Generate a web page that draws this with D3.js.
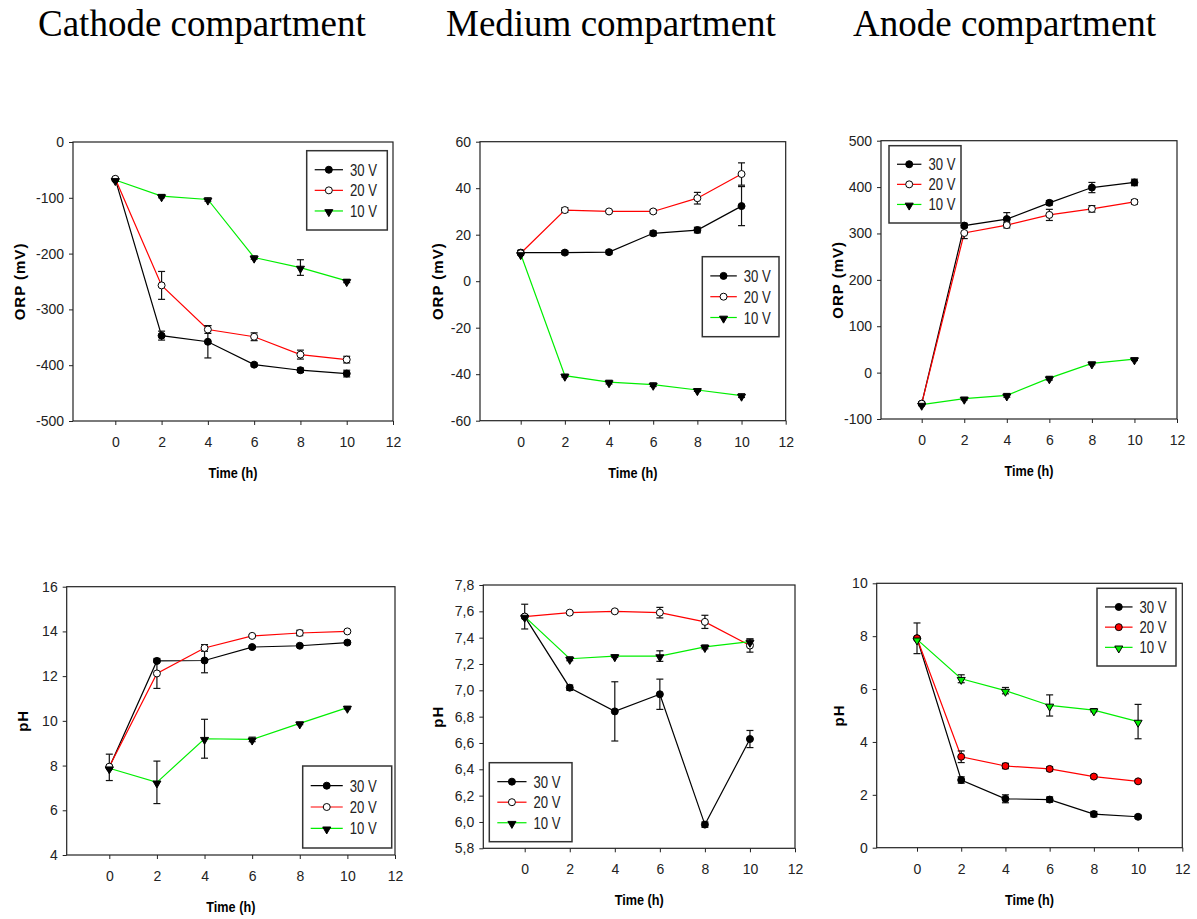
<!DOCTYPE html>
<html>
<head>
<meta charset="utf-8">
<script src="https://cdn.jsdelivr.net/npm/d3@7"></script>
<style>
  body { margin: 0; background: #fff; }
  .tick text { font-family: "Liberation Sans", Arial, sans-serif; font-size: 14px; fill: #222; }
  .legend text { font-family: "Liberation Sans Narrow", "Arial Narrow", "Liberation Sans", sans-serif; font-size: 17px; fill: #222; }
  .xtitle { font-family: "Liberation Sans Narrow", "Arial Narrow", "Liberation Sans", sans-serif; font-weight: bold; font-size: 15px; }
  .ytitle { font-family: "Liberation Sans", Arial, sans-serif; font-weight: bold; font-size: 15px; letter-spacing: 1px; }
  .ptitle { font-family: "Liberation Serif", "Times New Roman", serif; font-size: 37px; }
</style>
</head>
<body>
<div id="chart"></div>
<script>
// data
var hours = [0, 2, 4, 6, 8, 10],
    seriesNames = ["30 V", "20 V", "10 V"],
    titles = ["Cathode compartment", "Medium compartment", "Anode compartment"];

// ORP (mV)
var cathodeOrp    = [[-67, -347, -358, -399, -409, -415], [-66, -257, -336, -349, -381, -390], [-68, -97, -103, -207, -225, -249]],
    cathodeOrpErr = [[3, 8, 29, 3, 4, 6], [0, 25, 7, 7, 8, 6], [0, 3, 3, 3, 14, 3]],
    mediumOrp     = [[12.3, 12.3, 12.5, 20.6, 22, 32.3], [12, 30.6, 30, 30, 35.7, 46.1], [11.7, -40.6, -43.4, -44.5, -46.8, -49.2]],
    mediumOrpErr  = [[1, 0.8, 0.8, 1, 1.2, 8.4], [0, 1, 0.5, 0.8, 2.5, 4.8], [0, 0.6, 0.8, 0.8, 0.6, 0.8]],
    anodeOrp      = [[-67, 317, 331, 366, 399, 410], [-67, 301, 318, 340, 353, 368], [-69, -56, -49, -12, 20, 29]],
    anodeOrpErr   = [[4, 5, 14, 5, 11, 7], [0, 12, 6, 12, 7, 5], [0, 3, 4, 4, 3, 3]];

// pH
var cathodePh     = [[7.92, 12.68, 12.7, 13.3, 13.36, 13.5], [7.95, 12.12, 13.26, 13.8, 13.93, 14.0], [7.88, 7.25, 9.2, 9.17, 9.89, 10.59]],
    cathodePhErr  = [[0.59, 0.05, 0.55, 0.06, 0.05, 0.06], [0, 0.67, 0.15, 0.05, 0.12, 0.05], [0, 0.95, 0.87, 0.1, 0.06, 0.06]],
    mediumPh      = [[7.56, 7.02, 6.84, 6.97, 5.98, 6.63], [7.56, 7.59, 7.6, 7.59, 7.52, 7.34], [7.56, 7.24, 7.26, 7.26, 7.33, 7.37]],
    mediumPhErr   = [[0.094, 0.02, 0.225, 0.115, 0.02, 0.065], [0, 0.01, 0.01, 0.04, 0.05, 0.05], [0, 0.015, 0.01, 0.04, 0.015, 0.02]],
    anodePh       = [[7.92, 2.56, 1.85, 1.82, 1.27, 1.17], [7.92, 3.44, 3.09, 2.98, 2.69, 2.51], [7.88, 6.39, 5.94, 5.38, 5.2, 4.77]],
    anodePhErr    = [[0.58, 0.12, 0.15, 0.1, 0.1, 0.06], [0, 0.22, 0.1, 0.08, 0.06, 0.05], [0, 0.15, 0.12, 0.4, 0.06, 0.65]];

var lineColors = ["#000000", "#ff0000", "#00ee00"];

var W = 1197, H = 919;
var svg = d3.select("#chart").append("svg").attr("width", W).attr("height", H);

// column titles
var titleX = [38, 446, 853];
svg.selectAll(".ptitle").data(titles).enter().append("text")
    .attr("class", "ptitle")
    .attr("x", function(d, i) { return titleX[i]; })
    .attr("y", 36)
    .text(function(d) { return d; });

// panel layout: frame edges, pixel of x=0, y axis setup, legend box
var panels = [
    { box: [73, 142, 393, 421], zero: 115.3, y: [-500, 0], step: 100, ylab: "ORP (mV)", ytx: -53,
      vals: cathodeOrp, errs: cathodeOrpErr, leg: [306.7, 150.7, 80.6, 79.3], fillSym: false },
    { box: [480, 141.7, 785.7, 420.7], zero: 520.7, y: [-60, 60], step: 20, ylab: "ORP (mV)", ytx: -42,
      vals: mediumOrp, errs: mediumOrpErr, leg: [702.3, 256.7, 76.7, 80], fillSym: false },
    { box: [881, 140.7, 1177, 419], zero: 921.7, y: [-100, 500], step: 100, ylab: "ORP (mV)", ytx: -43,
      vals: anodeOrp, errs: anodeOrpErr, leg: [889, 145.7, 72, 77.3], fillSym: false },
    { box: [66.7, 586.7, 395, 855], zero: 109.3, y: [4, 16], step: 2, ylab: "pH", ytx: -44,
      vals: cathodePh, errs: cathodePhErr, leg: [302.7, 766, 89, 82], fillSym: false },
    { box: [483.3, 585, 795, 848.3], zero: 524.7, y: [5.8, 7.8], step: 0.2, ylab: "pH", ytx: -45,
      vals: mediumPh, errs: mediumPhErr, leg: [489.3, 762.7, 82.7, 79], fillSym: false },
    { box: [876.7, 583.3, 1182.3, 847.7], zero: 917, y: [0, 10], step: 2, ylab: "pH", ytx: -38,
      vals: anodePh, errs: anodePhErr, leg: [1097, 588.3, 79, 77.7], fillSym: true }
];

panels.forEach(drawPanel);

function drawPanel(p) {
    var left = p.box[0], top = p.box[1], right = p.box[2], bottom = p.box[3];
    var xmin = -12 * (p.zero - left) / (right - p.zero);

    var x = d3.scaleLinear().domain([xmin, 12]).range([left, right]),
        y = d3.scaleLinear().domain(p.y).range([bottom, top]);

    var g = svg.append("g");

    var yTicks = d3.range(p.y[0], p.y[1] + p.step / 2, p.step);
    // hyphen minus and comma decimals like the original
    var fmt = p.step < 1
        ? function(d) { return d3.format(".1f")(d).replace(".", ","); }
        : function(d) { return String(Math.round(d)); };

    g.append("g")
        .attr("transform", "translate(" + left + ",0)")
        .call(d3.axisLeft(y).tickValues(yTicks).tickFormat(fmt).tickSize(4).tickPadding(5))
        .call(function(a) { a.select(".domain").remove(); });

    g.append("g")
        .attr("transform", "translate(0," + bottom + ")")
        .call(d3.axisBottom(x).tickValues([0, 2, 4, 6, 8, 10, 12]).tickFormat(d3.format("d")).tickSize(4).tickPadding(12))
        .call(function(a) { a.select(".domain").remove(); });

    g.selectAll(".tick line").attr("stroke", "#222");

    // frame
    g.append("rect")
        .attr("x", left).attr("y", top)
        .attr("width", right - left).attr("height", bottom - top)
        .attr("fill", "none").attr("stroke", "#222").attr("stroke-width", 1.2);

    // axis titles
    g.append("text").attr("class", "xtitle")
        .attr("x", (left + right) / 2).attr("y", bottom + 57)
        .attr("text-anchor", "middle")
        .attr("textLength", 49).attr("lengthAdjust", "spacingAndGlyphs")
        .text("Time (h)");
    g.append("text").attr("class", "ytitle")
        .attr("transform", "translate(" + (left + p.ytx + 5) + "," + ((top + bottom) / 2) + ") rotate(-90)")
        .attr("text-anchor", "middle").text(p.ylab);

    var line = d3.line()
        .x(function(d, i) { return x(hours[i]); })
        .y(function(d) { return y(d); });

    // lines
    p.vals.forEach(function(vals, s) {
        g.append("path").datum(vals)
            .attr("d", line)
            .attr("fill", "none")
            .attr("stroke", lineColors[s])
            .attr("stroke-width", 1.2);
    });

    // error bars
    p.vals.forEach(function(vals, s) {
        var errs = p.errs[s];
        var pts = vals.map(function(d, i) { return { x: hours[i], v: d, e: errs[i] }; })
            .filter(function(d) { return d.e > 0; });
        var eb = g.selectAll(null).data(pts).enter().append("g");
        eb.append("line")
            .attr("x1", function(d) { return x(d.x); })
            .attr("x2", function(d) { return x(d.x); })
            .attr("y1", function(d) { return y(d.v + d.e); })
            .attr("y2", function(d) { return y(d.v - d.e); });
        [1, -1].forEach(function(sign) {
            eb.append("line")
                .attr("x1", function(d) { return x(d.x) - 3.5; })
                .attr("x2", function(d) { return x(d.x) + 3.5; })
                .attr("y1", function(d) { return y(d.v + sign * d.e); })
                .attr("y2", function(d) { return y(d.v + sign * d.e); });
        });
        eb.selectAll("line").attr("stroke", "#111").attr("stroke-width", 1.2);
    });

    // markers
    p.vals.forEach(function(vals, s) {
        drawMarkers(g, vals.map(function(d, i) { return [x(hours[i]), y(d)]; }), s, p.fillSym);
    });

    // legend
    var L = p.leg;
    var lg = g.append("g").attr("class", "legend");
    lg.append("rect")
        .attr("x", L[0]).attr("y", L[1]).attr("width", L[2]).attr("height", L[3])
        .attr("fill", "#fff").attr("stroke", "#333").attr("stroke-width", 1.5);
    var lx1 = L[0] + 8, lx2 = L[0] + L[2] * 0.45, lt = lx2 + 7;
    seriesNames.forEach(function(name, s) {
        var ly = L[1] + L[3] * (0.24 + 0.26 * s);
        lg.append("line")
            .attr("x1", lx1).attr("x2", lx2).attr("y1", ly).attr("y2", ly)
            .attr("stroke", lineColors[s]).attr("stroke-width", 1.2);
        drawMarkers(lg, [[(lx1 + lx2) / 2, ly]], s, p.fillSym);
        lg.append("text")
            .attr("x", lt).attr("y", ly + 6)
            .attr("textLength", 27).attr("lengthAdjust", "spacingAndGlyphs")
            .text(name);
    });
}

function drawMarkers(g, pts, s, fillSym) {
    if (s === 2) {
        var tri = d3.symbol().type(d3.symbolTriangle).size(28);
        g.selectAll(null).data(pts).enter().append("path")
            .attr("d", tri)
            .attr("transform", function(d) { return "translate(" + d[0] + "," + (d[1] + 1) + ") rotate(180)"; })
            .attr("fill", fillSym ? "#00ee00" : "#000")
            .attr("stroke", "#000").attr("stroke-width", 1);
    } else {
        g.selectAll(null).data(pts).enter().append("circle")
            .attr("cx", function(d) { return d[0]; })
            .attr("cy", function(d) { return d[1]; })
            .attr("r", 3.5)
            .attr("fill", s === 0 ? "#000" : (fillSym ? "#ff0000" : "#fff"))
            .attr("stroke", "#000").attr("stroke-width", 1);
    }
}
</script>
</body>
</html>
